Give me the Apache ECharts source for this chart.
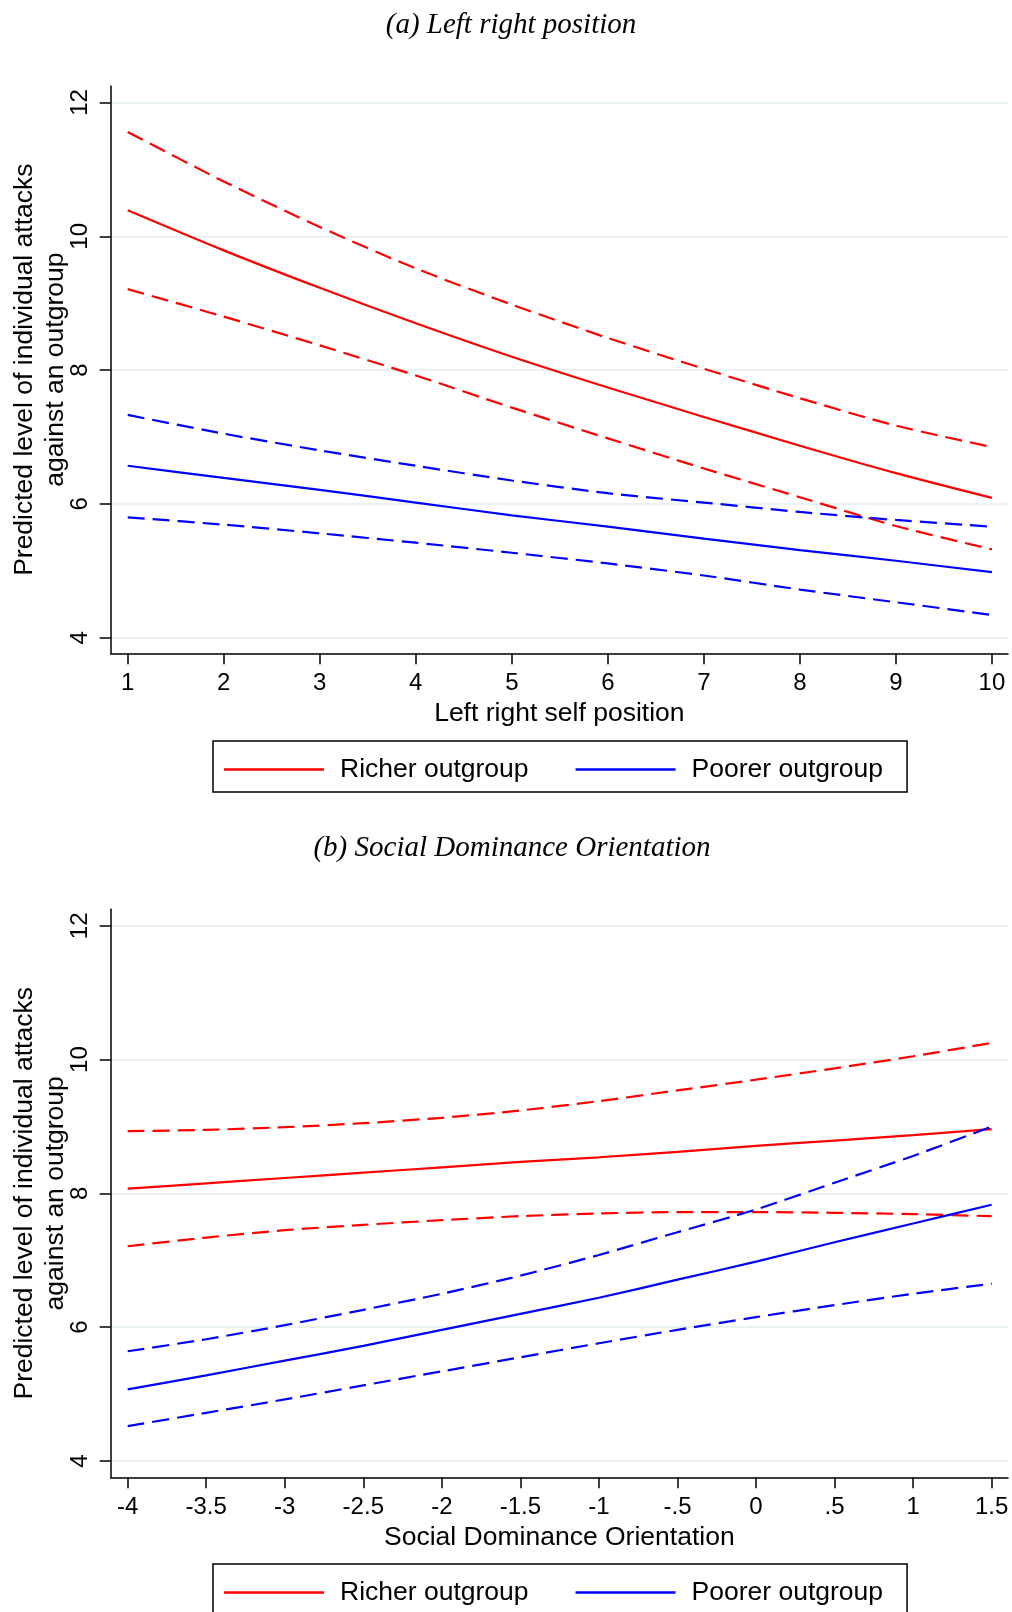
<!DOCTYPE html>
<html>
<head>
<meta charset="utf-8">
<script src="https://cdn.jsdelivr.net/npm/echarts@6/dist/echarts.min.js"></script>
<style>
html,body{margin:0;padding:0;background:#fff;}
#c{width:1012px;height:1612px;}
</style>
</head>
<body>
<div id="c"></div>
<script>
// ---- Panel (a): Left right position ----
const lrX = [1, 2, 3, 4, 5, 6, 7, 8, 9, 10];
const lrRicher      = [10.39, 9.79, 9.23, 8.70, 8.20, 7.74, 7.30, 6.87, 6.46, 6.09];
const lrRicherUpper = [11.56, 10.82, 10.14, 9.52, 8.98, 8.48, 8.02, 7.58, 7.17, 6.85];
const lrRicherLower = [9.21, 8.80, 8.37, 7.92, 7.44, 6.98, 6.53, 6.10, 5.67, 5.32];
const lrPoorer      = [6.57, 6.39, 6.21, 6.02, 5.83, 5.66, 5.48, 5.31, 5.15, 4.98];
const lrPoorerUpper = [7.33, 7.05, 6.80, 6.57, 6.35, 6.16, 6.02, 5.88, 5.76, 5.66];
const lrPoorerLower = [5.80, 5.69, 5.56, 5.42, 5.27, 5.11, 4.93, 4.72, 4.53, 4.34];
const lrTicks = [1, 2, 3, 4, 5, 6, 7, 8, 9, 10];

// ---- Panel (b): Social Dominance Orientation ----
const sdoX = [-4, -3.5, -3, -2.5, -2, -1.5, -1, -0.5, 0, 0.5, 1, 1.5];
const sdoRicher      = [8.07, 8.15, 8.23, 8.31, 8.39, 8.47, 8.54, 8.62, 8.71, 8.79, 8.87, 8.96];
const sdoRicherUpper = [8.93, 8.95, 8.99, 9.05, 9.13, 9.24, 9.38, 9.54, 9.70, 9.87, 10.05, 10.25];
const sdoRicherLower = [7.21, 7.34, 7.45, 7.53, 7.60, 7.66, 7.70, 7.72, 7.72, 7.71, 7.69, 7.66];
const sdoPoorer      = [5.07, 5.28, 5.50, 5.72, 5.96, 6.20, 6.44, 6.71, 6.98, 7.27, 7.55, 7.83];
const sdoPoorerUpper = [5.64, 5.82, 6.03, 6.26, 6.50, 6.77, 7.08, 7.42, 7.76, 8.16, 8.56, 9.00];
const sdoPoorerLower = [4.52, 4.72, 4.92, 5.13, 5.34, 5.55, 5.76, 5.96, 6.15, 6.33, 6.50, 6.65];
const sdoTicks = [-4, -3.5, -3, -2.5, -2, -1.5, -1, -0.5, 0, 0.5, 1, 1.5];

const yTicks = [4, 6, 8, 10, 12];

const titleA = '(a) Left right position';
const titleB = '(b) Social Dominance Orientation';
const xNameA = 'Left right self position';
const xNameB = 'Social Dominance Orientation';
const yName = 'Predicted level of individual attacks\nagainst an outgroup';
const nameRicher = 'Richer outgroup';
const namePoorer = 'Poorer outgroup';

const RED = '#ff0000', BLUE = '#0000ff';
const SANS = '"Liberation Sans", Arial, Helvetica, sans-serif';
const SERIF = '"Liberation Serif", "Times New Roman", serif';

function zip(xs, ys) { return xs.map((x, i) => [x, ys[i]]); }
function stataNum(v) {
  if (v === 0) return '0';
  let s = String(v);
  s = s.replace(/^(-?)0\./, '$1.');
  return s;
}

function xAxisCfg(gridIndex, min, max, ticks, name, fmt) {
  return {
    type: 'value', gridIndex, min, max,
    name, nameLocation: 'middle', nameGap: 47, nameMoveOverlap: false,
    nameTextStyle: { fontFamily: SANS, fontSize: 26.5, color: '#000' },
    axisLine: { show: true, onZero: false, lineStyle: { color: '#000', width: 1.5 } },
    axisTick: { show: true, length: 11, customValues: ticks, lineStyle: { color: '#000', width: 1.5 } },
    axisLabel: { customValues: ticks, margin: 18, fontFamily: SANS, fontSize: 24, color: '#000', formatter: fmt },
    splitLine: { show: false }
  };
}
function yAxisCfg(gridIndex, min, max) {
  return {
    type: 'value', gridIndex, min, max,
    name: yName, nameLocation: 'middle', nameGap: 40, nameRotate: 90, nameMoveOverlap: false,
    nameTextStyle: { fontFamily: SANS, fontSize: 26.5, color: '#000', lineHeight: 31 },
    axisLine: { show: true, onZero: false, lineStyle: { color: '#000', width: 1.5 } },
    axisTick: { show: true, length: 11, customValues: yTicks, lineStyle: { color: '#000', width: 1.5 } },
    axisLabel: { customValues: yTicks, rotate: 90, margin: 18, fontFamily: SANS, fontSize: 24, color: '#000' },
    splitLine: { show: true, lineStyle: { color: '#eaf2f3', width: 2 } }
  };
}
function lineSeries(name, xi, yi, data, color, dashed) {
  return {
    type: 'line', name, xAxisIndex: xi, yAxisIndex: yi, data,
    showSymbol: false, symbol: 'none', smooth: 0.25,
    lineStyle: { color, width: 2.2, type: dashed ? [17, 8] : 'solid' },
    itemStyle: { color },
    emphasis: { disabled: true }, silent: true
  };
}
function legendCfg(top) {
  return {
    data: [nameRicher, namePoorer],
    left: 213, top,
    orient: 'horizontal',
    icon: 'rect', itemWidth: 100, itemHeight: 2.5, itemGap: 47,
    padding: [15, 24, 9, 11],
    borderColor: '#000', borderWidth: 1.5, borderRadius: 0,
    backgroundColor: '#fff',
    selectedMode: false,
    textStyle: { fontFamily: SANS, fontSize: 26.5, color: '#000', padding: [0, 0, 0, 11] }
  };
}

const chart = echarts.init(document.getElementById('c'), null, { renderer: 'canvas' });
chart.setOption({
  animation: false,
  backgroundColor: '#fff',
  title: [
    { text: titleA, left: 506, top: 6, textAlign: 'center',
      textStyle: { fontFamily: SERIF, fontStyle: 'italic', fontWeight: 'normal', fontSize: 29, color: '#000' } },
    { text: titleB, left: 507, top: 829, textAlign: 'center',
      textStyle: { fontFamily: SERIF, fontStyle: 'italic', fontWeight: 'normal', fontSize: 29, color: '#000' } }
  ],
  legend: [legendCfg(741), legendCfg(1564)],
  grid: [
    { left: 110.7, top: 86, width: 897.3, height: 567.3, containLabel: false, outerBoundsMode: 'none' },
    { left: 110.7, top: 909.3, width: 897.3, height: 568, containLabel: false, outerBoundsMode: 'none' }
  ],
  xAxis: [
    xAxisCfg(0, 0.823, 10.167, lrTicks, xNameA, v => String(v)),
    xAxisCfg(1, -4.108, 1.604, sdoTicks, xNameB, stataNum)
  ],
  yAxis: [
    yAxisCfg(0, 3.767, 12.247),
    yAxisCfg(1, 3.756, 12.247)
  ],
  series: [
    lineSeries(nameRicher, 0, 0, zip(lrX, lrRicher), RED, false),
    lineSeries('Richer upper', 0, 0, zip(lrX, lrRicherUpper), RED, true),
    lineSeries('Richer lower', 0, 0, zip(lrX, lrRicherLower), RED, true),
    lineSeries(namePoorer, 0, 0, zip(lrX, lrPoorer), BLUE, false),
    lineSeries('Poorer upper', 0, 0, zip(lrX, lrPoorerUpper), BLUE, true),
    lineSeries('Poorer lower', 0, 0, zip(lrX, lrPoorerLower), BLUE, true),
    lineSeries(nameRicher, 1, 1, zip(sdoX, sdoRicher), RED, false),
    lineSeries('Richer upper b', 1, 1, zip(sdoX, sdoRicherUpper), RED, true),
    lineSeries('Richer lower b', 1, 1, zip(sdoX, sdoRicherLower), RED, true),
    lineSeries(namePoorer, 1, 1, zip(sdoX, sdoPoorer), BLUE, false),
    lineSeries('Poorer upper b', 1, 1, zip(sdoX, sdoPoorerUpper), BLUE, true),
    lineSeries('Poorer lower b', 1, 1, zip(sdoX, sdoPoorerLower), BLUE, true)
  ]
});
</script>
</body>
</html>
